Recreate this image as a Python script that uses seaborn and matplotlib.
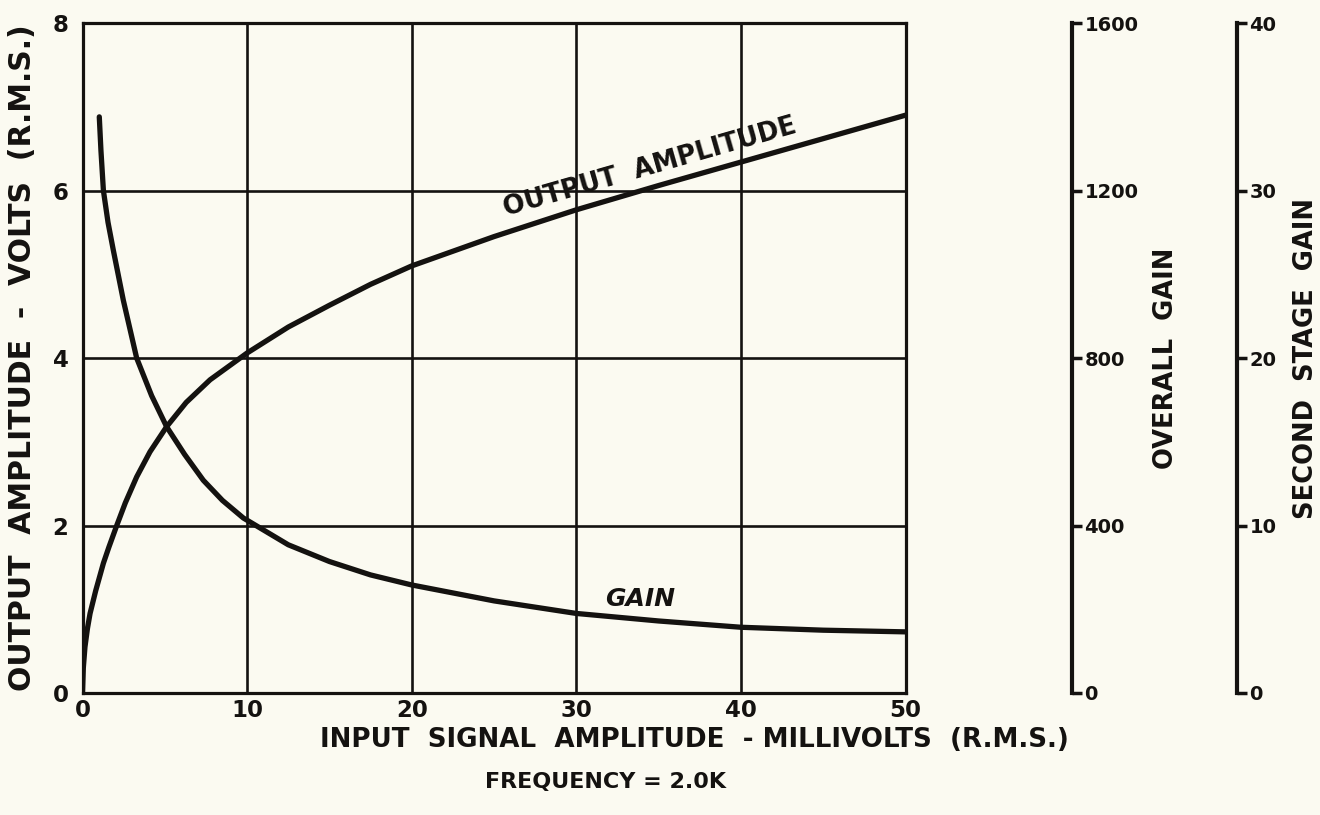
import matplotlib
matplotlib.use("Agg")
import matplotlib.pyplot as plt
import seaborn as sns
import pandas as pd

# ---- data ----
out_x = [0, 0.05, 0.15, 0.3, 0.46, 0.8, 1.27, 1.6, 2.08, 2.6, 3.29, 4.1, 5.11, 6.3, 7.75,
         10, 12.5, 15, 17.5, 20, 25, 30, 35, 40, 45, 50]
out_y = [0, 0.3, 0.55, 0.77, 0.95, 1.22, 1.55, 1.74, 2.0, 2.27, 2.58, 2.88, 3.18, 3.47, 3.74,
         4.06, 4.37, 4.63, 4.88, 5.10, 5.45, 5.77, 6.06, 6.34, 6.62, 6.90]

gain_x = [1.02, 1.12, 1.27, 1.55, 1.87, 2.48, 3.29, 4.2, 5.11, 6.2, 7.34, 8.5, 9.77,
          12.5, 15, 17.5, 20, 25, 30, 35, 40, 45, 50]
gain_y = [6.88, 6.48, 6.0, 5.62, 5.29, 4.69, 4.0, 3.55, 3.18, 2.85, 2.54, 2.3, 2.09,
          1.77, 1.57, 1.41, 1.29, 1.10, 0.95, 0.86, 0.785, 0.75, 0.73]

x_ticks = [0, 10, 20, 30, 40, 50]
y_ticks = [0, 2, 4, 6, 8]
overall_ticks = [0, 400, 800, 1200, 1600]
second_ticks = [0, 10, 20, 30, 40]

x_label = "INPUT  SIGNAL  AMPLITUDE  - MILLIVOLTS  (R.M.S.)"
y_label = "OUTPUT  AMPLITUDE  -  VOLTS  (R.M.S.)"
overall_label = "OVERALL  GAIN"
second_label = "SECOND  STAGE  GAIN"
freq_text = "FREQUENCY = 2.0K"
out_curve_label = "OUTPUT  AMPLITUDE"
gain_curve_label = "GAIN"

# ---- style ----
sns.set_theme(style="white")
bg = "#fbfaf1"
ink = "#141210"
plt.rcParams["font.family"] = ["DejaVu Sans"]
plt.rcParams["font.weight"] = "bold"
plt.rcParams["text.color"] = ink
plt.rcParams["axes.labelcolor"] = ink
plt.rcParams["xtick.color"] = ink
plt.rcParams["ytick.color"] = ink

fig = plt.figure(figsize=(13.2, 8.15), dpi=100, facecolor=bg)
ax = fig.add_axes([0.0625, 0.1497, 0.6235, 0.822])
ax.set_facecolor(bg)

df_out = pd.DataFrame({"x": out_x, "y": out_y})
df_gain = pd.DataFrame({"x": gain_x, "y": gain_y})
sns.lineplot(data=df_out, x="x", y="y", ax=ax, color=ink, linewidth=3.8,
             sort=False, estimator=None, solid_capstyle="round", solid_joinstyle="round")
sns.lineplot(data=df_gain, x="x", y="y", ax=ax, color=ink, linewidth=3.8,
             sort=False, estimator=None, solid_capstyle="round", solid_joinstyle="round")

ax.set_xlim(0, 50)
ax.set_ylim(0, 8)
ax.set_xticks(x_ticks)
ax.set_yticks(y_ticks)
ax.grid(True, color=ink, linewidth=1.9)
ax.set_axisbelow(True)
for s in ax.spines.values():
    s.set_visible(True)
    s.set_color(ink)
    s.set_linewidth(2.3)
ax.tick_params(axis="x", length=0, labelsize=16.5, pad=4)
ax.tick_params(axis="y", length=0, labelsize=16.5, pad=10)
for lab in ax.get_xticklabels() + ax.get_yticklabels():
    lab.set_fontweight("bold")
ax.set_xlabel("")
ax.set_ylabel(y_label, fontsize=21.5, fontweight="bold", va="center")
ax.yaxis.set_label_coords(-0.0735, 0.5)

# curve annotations
ax.text(34.5, 6.28, out_curve_label, rotation=16, fontsize=18.5, fontweight="bold",
        ha="center", va="center", rotation_mode="anchor")
ax.text(33.9, 1.12, gain_curve_label, fontsize=18, fontweight="bold", style="italic",
        ha="center", va="center")

# extra right axes
def extra_axis(pos, lim, ticks, label, label_x):
    a = ax.twinx()
    a.set_ylim(*lim)
    a.set_yticks(ticks)
    for k, s in a.spines.items():
        s.set_visible(k == "right")
    a.spines["right"].set_position(("axes", pos))
    a.spines["right"].set_linewidth(3.0)
    a.spines["right"].set_color(ink)
    a.tick_params(axis="y", direction="out", length=7, width=2.5, labelsize=14,
                  pad=2, right=True, left=False)
    for lab in a.get_yticklabels():
        lab.set_fontweight("bold")
    a.set_ylabel(label, fontsize=18.5, fontweight="bold", rotation=90, va="center")
    a.yaxis.set_label_coords(label_x, 0.5)
    a.grid(False)
    return a

extra_axis(1.2023, (0, 1600), overall_ticks, overall_label, 1.317)
extra_axis(1.4028, (0, 40), second_ticks, second_label, 1.487)

fig.text(0.526, 1 - 740 / 815, x_label, fontsize=18.8, fontweight="bold",
         ha="center", va="center")
fig.text(0.459, 1 - 782 / 815, freq_text, fontsize=16, fontweight="bold",
         ha="center", va="center")

fig.savefig("out.png", dpi=100, facecolor=bg)
